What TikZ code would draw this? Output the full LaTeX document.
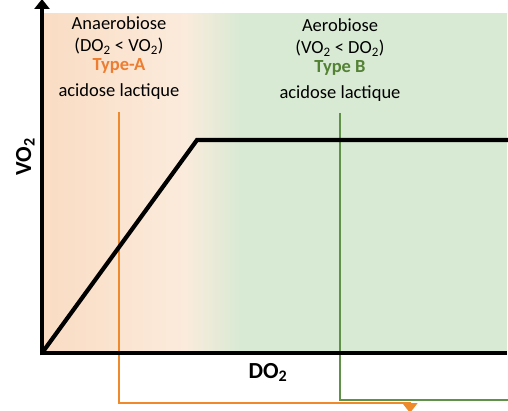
\documentclass[tikz,border=0pt]{standalone}
\usepackage{fontspec}
\setmainfont{Carlito}
\usetikzlibrary{arrows.meta}
\definecolor{orA}{HTML}{FADCC3}
\definecolor{orB}{HTML}{FBEBDC}
\definecolor{grA}{HTML}{D9EAD4}
\definecolor{orline}{HTML}{EE8A2C}
\definecolor{grline}{HTML}{5F9149}
\definecolor{orText}{HTML}{ED7D31}
\definecolor{grText}{HTML}{548235}
\pgfdeclarehorizontalshading{bgshade}{100bp}{color(0bp)=(orA); color(25bp)=(orA); color(40.3bp)=(orB); color(46.2bp)=(grA); color(100bp)=(grA)}
\tikzset{
  lbl/.style={anchor=base, inner sep=0pt, font=\fontsize{18.5}{22}\selectfont},
  axlbl/.style={anchor=base, inner sep=0pt, font=\fontsize{23}{26}\selectfont\bfseries},
  axis/.style={line width=4.5pt},
  curve/.style={line width=4.2pt, line join=miter},
  orconn/.style={draw=orline, line width=1.5pt},
  grconn/.style={draw=grline, line width=1.5pt}
}
\begin{document}
\begin{tikzpicture}[x=1pt,y=-1pt]
\useasboundingbox (0,0) rectangle (508,411);
% background
\shade[shading=bgshade] (43,14) rectangle (507,353);
% coordinates
\coordinate (O) at (42,353);
\coordinate (Ytop) at (42,-1);
\coordinate (Xend) at (507,353);
\coordinate (K) at (197,140);
\coordinate (Cend) at (508,140);
% texts
\node[lbl] (an) at (119,30) {Anaerobiose};
\node[lbl] (anr) at (119,52) {(DO\textsubscript{2} < VO\textsubscript{2})};
\node[lbl, text=orText, font=\fontsize{18.5}{22}\selectfont\bfseries] (ta) at (119,71) {Type-A};
\node[lbl] (aca) at (119,97) {acidose lactique};
\node[lbl] (ae) at (340,32) {Aerobiose};
\node[lbl] (aer) at (340,54) {(VO\textsubscript{2} < DO\textsubscript{2})};
\node[lbl, text=grText, font=\fontsize{18.5}{22}\selectfont\bfseries] (tb) at (340,73) {Type B};
\node[lbl] (acb) at (340,99) {acidose lactique};
\node[axlbl] (dx) at (268,378) {DO\textsubscript{2}};
\node[axlbl, rotate=90] (vy) at (31,157) {VO\textsubscript{2}};
% connectors
\coordinate (oa) at (119,112);
\coordinate (ob) at (119,403);
\coordinate (oc) at (410,403);
\coordinate (od) at (410,413);
\draw[orconn, -{Triangle[width=15pt,length=10pt]}] (oa) -- (ob) -- (oc) -- (od);
\coordinate (ga) at (340,113);
\coordinate (gb) at (340,400);
\coordinate (gc) at (509,400);
\draw[grconn] (ga) -- (gb) -- (gc);
% curve
\draw[curve] (O) -- (K) -- (Cend);
% axes
\draw[axis] (O) -- (Xend);
\draw[axis, -{Triangle[width=15pt,length=10pt]}] ([yshift=-2.25pt]O) -- (Ytop);
\end{tikzpicture}
\end{document}
